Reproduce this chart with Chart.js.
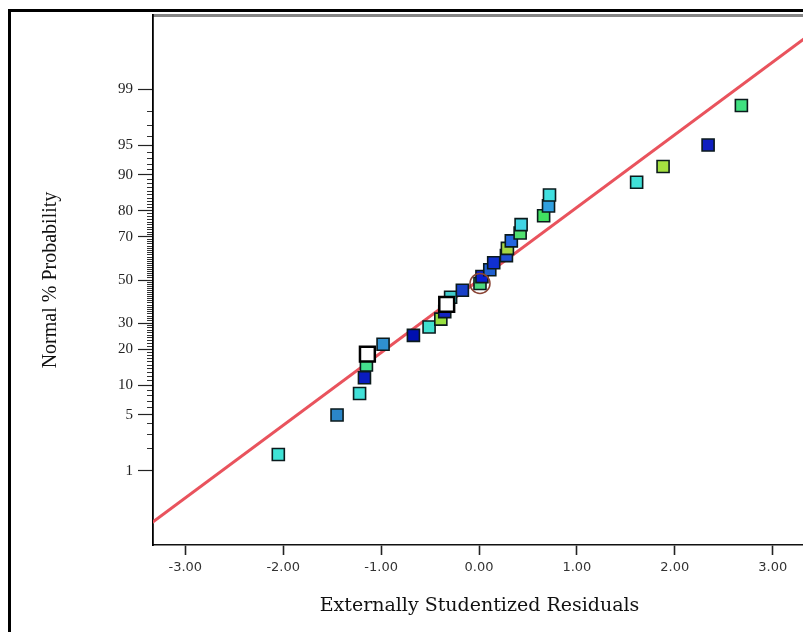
<!DOCTYPE html>
<html>
<head>
<meta charset="utf-8">
<script src="https://cdn.jsdelivr.net/npm/chart.js@4.4.1/dist/chart.umd.min.js"></script>
<style>
  html, body { margin: 0; padding: 0; background: #fff; overflow: hidden; }
  body { width: 803px; height: 632px; position: relative; }
  #frame { position: absolute; left: 8px; top: 9px; width: 830px; height: 650px;
           border-left: 3px solid #000; border-top: 3px solid #000; }
  #wrap { position: absolute; left: 0; top: 0; width: 820px; height: 632px; }
</style>
</head>
<body>
<div id="frame"></div>
<div id="wrap"><canvas id="chart" width="820" height="632"></canvas></div>
<script>
// externally studentized residuals, sorted, with their normal % probability
const residuals = [-2.05, -1.45, -1.22, -1.17, -1.15, -1.14, -0.98, -0.67, -0.51, -0.39,
                   -0.35, -0.33, -0.29, -0.17, 0.01, 0.03, 0.11, 0.15, 0.28, 0.29,
                   0.33, 0.42, 0.43, 0.66, 0.71, 0.72, 1.61, 1.88, 2.34, 2.68];
const probabilities = [1.67, 5.00, 8.33, 11.67, 15.00, 18.33, 21.67, 25.00, 28.33, 31.67,
                       35.00, 38.33, 41.67, 45.00, 48.33, 51.67, 55.00, 58.33, 61.67, 65.00,
                       68.33, 71.67, 75.00, 78.33, 81.67, 85.00, 88.33, 91.67, 95.00, 98.33];
const pointColors = ['#3fe3d6', '#2b86c8', '#40e0d8', '#0a1cc0', '#44e08e', '#ffffff', '#2f90d0', '#0010b0', '#40e0d0', '#98e040',
                     '#1424c4', '#ffffff', '#40cccc', '#1840c8', '#4cd880', '#0a20d0', '#2060d0', '#1030d0', '#2050d6', '#a4d844',
                     '#2466e0', '#50e070', '#40d4e4', '#40e060', '#30a0e0', '#40e0e0', '#40e0d8', '#a4e040', '#1020c0', '#40e080'];
const flaggedSquares = [5, 11];
const flaggedCircles = [14];

const fitResiduals = [-3.4, 3.4];
const fitProbabilities = [0.13, 99.87];

const xTickValues = [-3, -2, -1, 0, 1, 2, 3];
const yMajorTicks = [1, 5, 10, 20, 30, 50, 70, 80, 90, 95, 99];
const yMinorTicks = [2, 3, 4, 6, 7, 8, 9, 11, 12, 13, 14, 15, 16, 17, 18, 19, 21, 22, 23, 24, 25, 26, 27, 28, 29,
                     31, 32, 33, 34, 35, 36, 37, 38, 39, 40, 41, 42, 43, 44, 45, 46, 47, 48, 49, 51, 52, 53, 54, 55,
                     56, 57, 58, 59, 60, 61, 62, 63, 64, 65, 66, 67, 68, 69, 71, 72, 73, 74, 75, 76, 77, 78, 79,
                     81, 82, 83, 84, 85, 86, 87, 88, 89, 91, 92, 93, 94, 96, 97, 98];

// inverse normal CDF (Acklam) - puts percent values on a probability axis
function probit(pct) {
  const p = pct / 100;
  const a = [-39.69683028665376, 220.9460984245205, -275.9285104469687, 138.3577518672690, -30.66479806614716, 2.506628277459239];
  const b = [-54.47609879822406, 161.5858368580409, -155.6989798598866, 66.80131188771972, -13.28068155288572];
  const c = [-0.007784894002430293, -0.3223964580411365, -2.400758277161838, -2.549732539343734, 4.374664141464968, 2.938163982698783];
  const d = [0.007784695709041462, 0.3224671290700398, 2.445134137142996, 3.754408661907416];
  const lo = 0.02425;
  let q, r;
  if (p < lo) {
    q = Math.sqrt(-2 * Math.log(p));
    return (((((c[0]*q+c[1])*q+c[2])*q+c[3])*q+c[4])*q+c[5]) / ((((d[0]*q+d[1])*q+d[2])*q+d[3])*q+1);
  }
  if (p <= 1 - lo) {
    q = p - 0.5; r = q * q;
    return (((((a[0]*r+a[1])*r+a[2])*r+a[3])*r+a[4])*r+a[5])*q / (((((b[0]*r+b[1])*r+b[2])*r+b[3])*r+b[4])*r+1);
  }
  q = Math.sqrt(-2 * Math.log(1 - p));
  return -(((((c[0]*q+c[1])*q+c[2])*q+c[3])*q+c[4])*q+c[5]) / ((((d[0]*q+d[1])*q+d[2])*q+d[3])*q+1);
}

const points = residuals.map((x, i) => ({ x: x, y: probit(probabilities[i]) }));
const fitLine = fitResiduals.map((x, i) => ({ x: x, y: probit(fitProbabilities[i]) }));

const Z_MIN = -3.23, Z_MAX = 3.23;

new Chart(document.getElementById('chart'), {
  type: 'scatter',
  data: {
    datasets: [
      {
        label: 'fit',
        data: fitLine,
        showLine: true,
        borderColor: '#e9535d',
        borderWidth: 3,
        pointRadius: 0,
        order: 3
      },
      {
        label: 'residuals',
        data: points,
        pointStyle: 'rect',
        pointRadius: 8.5,
        pointBackgroundColor: pointColors,
        pointBorderColor: '#0b1a1c',
        pointBorderWidth: 1.6,
        order: 2
      },
      {
        label: 'flagged',
        data: flaggedSquares.map(i => points[i]),
        pointStyle: 'rect',
        pointRadius: 10.5,
        pointBackgroundColor: '#ffffff',
        pointBorderColor: '#000000',
        pointBorderWidth: 2.5,
        order: 1
      },
      {
        label: 'flagged circle',
        data: flaggedCircles.map(i => points[i]),
        pointStyle: 'circle',
        pointRadius: 10,
        pointBackgroundColor: 'rgba(0,0,0,0)',
        pointBorderColor: '#8a4536',
        pointBorderWidth: 1.5,
        order: 0
      }
    ]
  },
  options: {
    responsive: false,
    animation: false,
    events: [],
    layout: { padding: { top: 15, right: 14, left: 0, bottom: 0 } },
    plugins: { legend: { display: false }, tooltip: { enabled: false } },
    scales: {
      x: {
        type: 'linear',
        position: 'bottom',
        min: -3.33,
        max: 3.34,
        afterBuildTicks: s => { s.ticks = xTickValues.map(v => ({ value: v })); },
        afterFit: s => { s.height = 87; },
        grid: { drawOnChartArea: false, tickLength: 10, tickColor: '#222', tickWidth: 1.6 },
        border: { color: '#111', width: 1.6 },
        ticks: {
          autoSkip: false, maxRotation: 0, padding: 5, color: '#333',
          font: { family: 'DejaVu Sans', size: 13 },
          callback: v => v.toFixed(2)
        },
        title: {
          display: true, text: 'Externally Studentized Residuals', color: '#111',
          font: { family: 'DejaVu Serif', size: 19 }, padding: { top: 0, bottom: 15 }
        }
      },
      xTop: {
        type: 'linear',
        position: 'top',
        afterFit: s => { s.height = 0; },
        grid: { display: false },
        ticks: { display: false },
        border: { color: '#858585', width: 3 }
      },
      y: {
        type: 'linear',
        position: 'left',
        weight: 1,
        min: Z_MIN,
        max: Z_MAX,
        afterBuildTicks: s => { s.ticks = yMajorTicks.map(p => ({ value: probit(p) })); },
        afterFit: s => { s.width = 153; },
        grid: { drawOnChartArea: false, tickLength: 15, tickColor: '#222', tickWidth: 1.2 },
        border: { color: '#000', width: 1.8 },
        ticks: {
          autoSkip: false, padding: 5, color: '#222',
          font: { family: 'Liberation Serif', size: 15 },
          callback: (v, i) => String(yMajorTicks[i])
        },
        title: {
          display: true, text: 'Normal % Probability', color: '#111',
          font: { family: 'Liberation Serif', size: 20 }, padding: { top: 39, bottom: 0 }
        }
      },
      yMinor: {
        type: 'linear',
        position: 'left',
        weight: 0,
        min: Z_MIN,
        max: Z_MAX,
        afterBuildTicks: s => { s.ticks = yMinorTicks.map(p => ({ value: probit(p) })); },
        afterFit: s => { s.width = 0; },
        grid: { drawOnChartArea: false, tickLength: 6, tickColor: '#333', tickWidth: 1 },
        border: { display: false },
        ticks: { display: false, autoSkip: false }
      }
    }
  }
});
</script>
</body>
</html>
